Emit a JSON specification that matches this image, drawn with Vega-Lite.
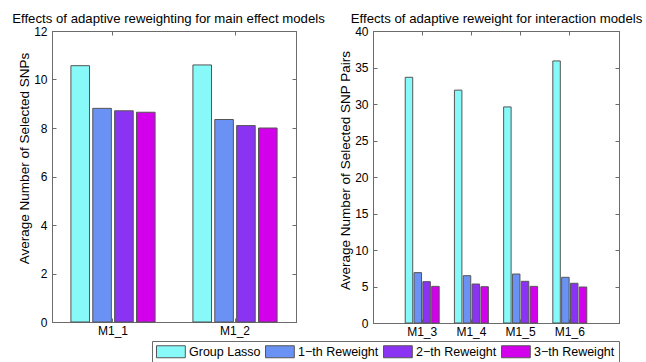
{
  "$schema": "https://vega.github.io/schema/vega-lite/v6.json",
  "autosize": {"type": "none"},
  "padding": {"left": 52, "top": 31, "right": 594, "bottom": 331},
  "background": "white",
  "spacing": 77,
  "bounds": "flush",
  "resolve": {"scale": {"xOffset": "independent"}},
  "config": {
    "font": "Liberation Sans",
    "view": {"stroke": "#6b6b6b", "strokeWidth": 1},
    "axis": {
      "grid": false,
      "domainColor": "#6b6b6b",
      "tickColor": "#6b6b6b",
      "tickSize": -4,
      "labelFontSize": 12,
      "labelColor": "black",
      "titleFontSize": 13.5,
      "titleFontWeight": "normal",
      "titleColor": "black"
    },
    "legend": {
      "orient": "none",
      "direction": "horizontal",
      "legendX": 100,
      "legendY": 310,
      "strokeColor": "#6b6b6b",
      "padding": 4,
      "columnPadding": 2,
      "symbolType": "M-1,-1h4.8v2h-4.8z",
      "symbolSize": 144,
      "symbolStrokeColor": "#555555",
      "symbolStrokeWidth": 1,
      "symbolOpacity": 1,
      "labelFontSize": 12.5,
      "labelColor": "black",
      "labelOffset": 20,
      "title": null
    }
  },
  "datasets": {
    "main": [
      {"model": "M1_1", "method": "Group Lasso", "value": 10.57},
      {"model": "M1_1", "method": "1−th Reweight", "value": 8.81},
      {"model": "M1_1", "method": "2−th Reweight", "value": 8.71},
      {"model": "M1_1", "method": "3−th Reweight", "value": 8.65},
      {"model": "M1_2", "method": "Group Lasso", "value": 10.6},
      {"model": "M1_2", "method": "1−th Reweight", "value": 8.35},
      {"model": "M1_2", "method": "2−th Reweight", "value": 8.1},
      {"model": "M1_2", "method": "3−th Reweight", "value": 8.0}
    ],
    "inter": [
      {"model": "M1_3", "method": "Group Lasso", "value": 33.66},
      {"model": "M1_3", "method": "1−th Reweight", "value": 6.9},
      {"model": "M1_3", "method": "2−th Reweight", "value": 5.66},
      {"model": "M1_3", "method": "3−th Reweight", "value": 5.02},
      {"model": "M1_4", "method": "Group Lasso", "value": 31.9},
      {"model": "M1_4", "method": "1−th Reweight", "value": 6.48},
      {"model": "M1_4", "method": "2−th Reweight", "value": 5.34},
      {"model": "M1_4", "method": "3−th Reweight", "value": 4.97},
      {"model": "M1_5", "method": "Group Lasso", "value": 29.6},
      {"model": "M1_5", "method": "1−th Reweight", "value": 6.71},
      {"model": "M1_5", "method": "2−th Reweight", "value": 5.71},
      {"model": "M1_5", "method": "3−th Reweight", "value": 5.02},
      {"model": "M1_6", "method": "Group Lasso", "value": 35.9},
      {"model": "M1_6", "method": "1−th Reweight", "value": 6.26},
      {"model": "M1_6", "method": "2−th Reweight", "value": 5.44},
      {"model": "M1_6", "method": "3−th Reweight", "value": 4.93}
    ]
  },
  "hconcat": [
    {
      "width": 244,
      "height": 291,
      "data": {"name": "main"},
      "layer": [
        {
          "mark": {"type": "bar", "stroke": "#555555", "strokeWidth": 1},
          "encoding": {
            "x": {"field": "model", "type": "nominal", "scale": {"paddingInner": 0.31, "paddingOuter": 0.155},
                  "axis": {"title": null, "labelAngle": 0, "labelPadding": 7}},
            "xOffset": {"field": "method", "type": "nominal", "sort": ["Group Lasso", "1−th Reweight", "2−th Reweight", "3−th Reweight"], "scale": {"paddingInner": 0.15}},
            "y": {"field": "value", "type": "quantitative", "scale": {"domain": [0, 12], "nice": false},
                  "axis": {"values": [0, 2, 4, 6, 8, 10, 12], "title": "Average Number of Selected SNPs", "labelPadding": 9, "titleX": -28, "titleY": 127, "titleBaseline": "middle", "titleAngle": 270, "titleAlign": "center"}},
            "color": {"field": "method", "type": "nominal",
                      "scale": {"domain": ["Group Lasso", "1−th Reweight", "2−th Reweight", "3−th Reweight"], "range": ["#88F9F9", "#6A91F4", "#8A33F3", "#D300EB"]}}
          }
        },
        {
          "mark": {"type": "bar", "opacity": 0},
          "encoding": {
            "x": {"field": "model", "type": "nominal", "axis": {"title": "Effects of adaptive reweighting for main effect models", "titleFontSize": 13.2, "titleBaseline": "alphabetic", "titlePadding": 8, "titleX": 116, "titleY": -8.5, "labels": false, "orient": "top", "minExtent": 0, "maxExtent": 0}},
            "y": {"field": "value", "type": "quantitative", "axis": {"values": [0, 2, 4, 6, 8, 10, 12], "title": null, "labels": false, "orient": "right", "minExtent": 0, "maxExtent": 0}}
          }
        }
      ],
      "resolve": {"axis": {"x": "independent", "y": "independent"}}
    },
    {
      "width": 246,
      "height": 292,
      "data": {"name": "inter"},
      "layer": [
        {
          "mark": {"type": "bar", "stroke": "#555555", "strokeWidth": 1},
          "encoding": {
            "x": {"field": "model", "type": "nominal", "scale": {"paddingInner": 0.31, "paddingOuter": 0.655},
                  "axis": {"title": null, "labelAngle": 0, "labelPadding": 7}},
            "xOffset": {"field": "method", "type": "nominal", "sort": ["Group Lasso", "1−th Reweight", "2−th Reweight", "3−th Reweight"], "scale": {"paddingInner": 0.15}},
            "y": {"field": "value", "type": "quantitative", "scale": {"domain": [0, 40], "nice": false},
                  "axis": {"values": [0, 5, 10, 15, 20, 25, 30, 35, 40], "title": "Average Number of Selected SNP Pairs", "labelPadding": 9, "titleX": -28, "titleY": 139, "titleBaseline": "middle", "titleAngle": 270, "titleAlign": "center"}},
            "color": {"field": "method", "type": "nominal",
                      "scale": {"domain": ["Group Lasso", "1−th Reweight", "2−th Reweight", "3−th Reweight"], "range": ["#88F9F9", "#6A91F4", "#8A33F3", "#D300EB"]}}
          }
        },
        {
          "mark": {"type": "bar", "opacity": 0},
          "encoding": {
            "x": {"field": "model", "type": "nominal", "axis": {"title": "Effects of adaptive reweight for interaction models", "titleFontSize": 13.2, "titleBaseline": "alphabetic", "titlePadding": 8, "titleX": 123, "titleY": -8.5, "labels": false, "orient": "top", "minExtent": 0, "maxExtent": 0}},
            "y": {"field": "value", "type": "quantitative", "axis": {"values": [0, 5, 10, 15, 20, 25, 30, 35, 40], "title": null, "labels": false, "orient": "right", "minExtent": 0, "maxExtent": 0}}
          }
        }
      ],
      "resolve": {"axis": {"x": "independent", "y": "independent"}}
    }
  ]
}
